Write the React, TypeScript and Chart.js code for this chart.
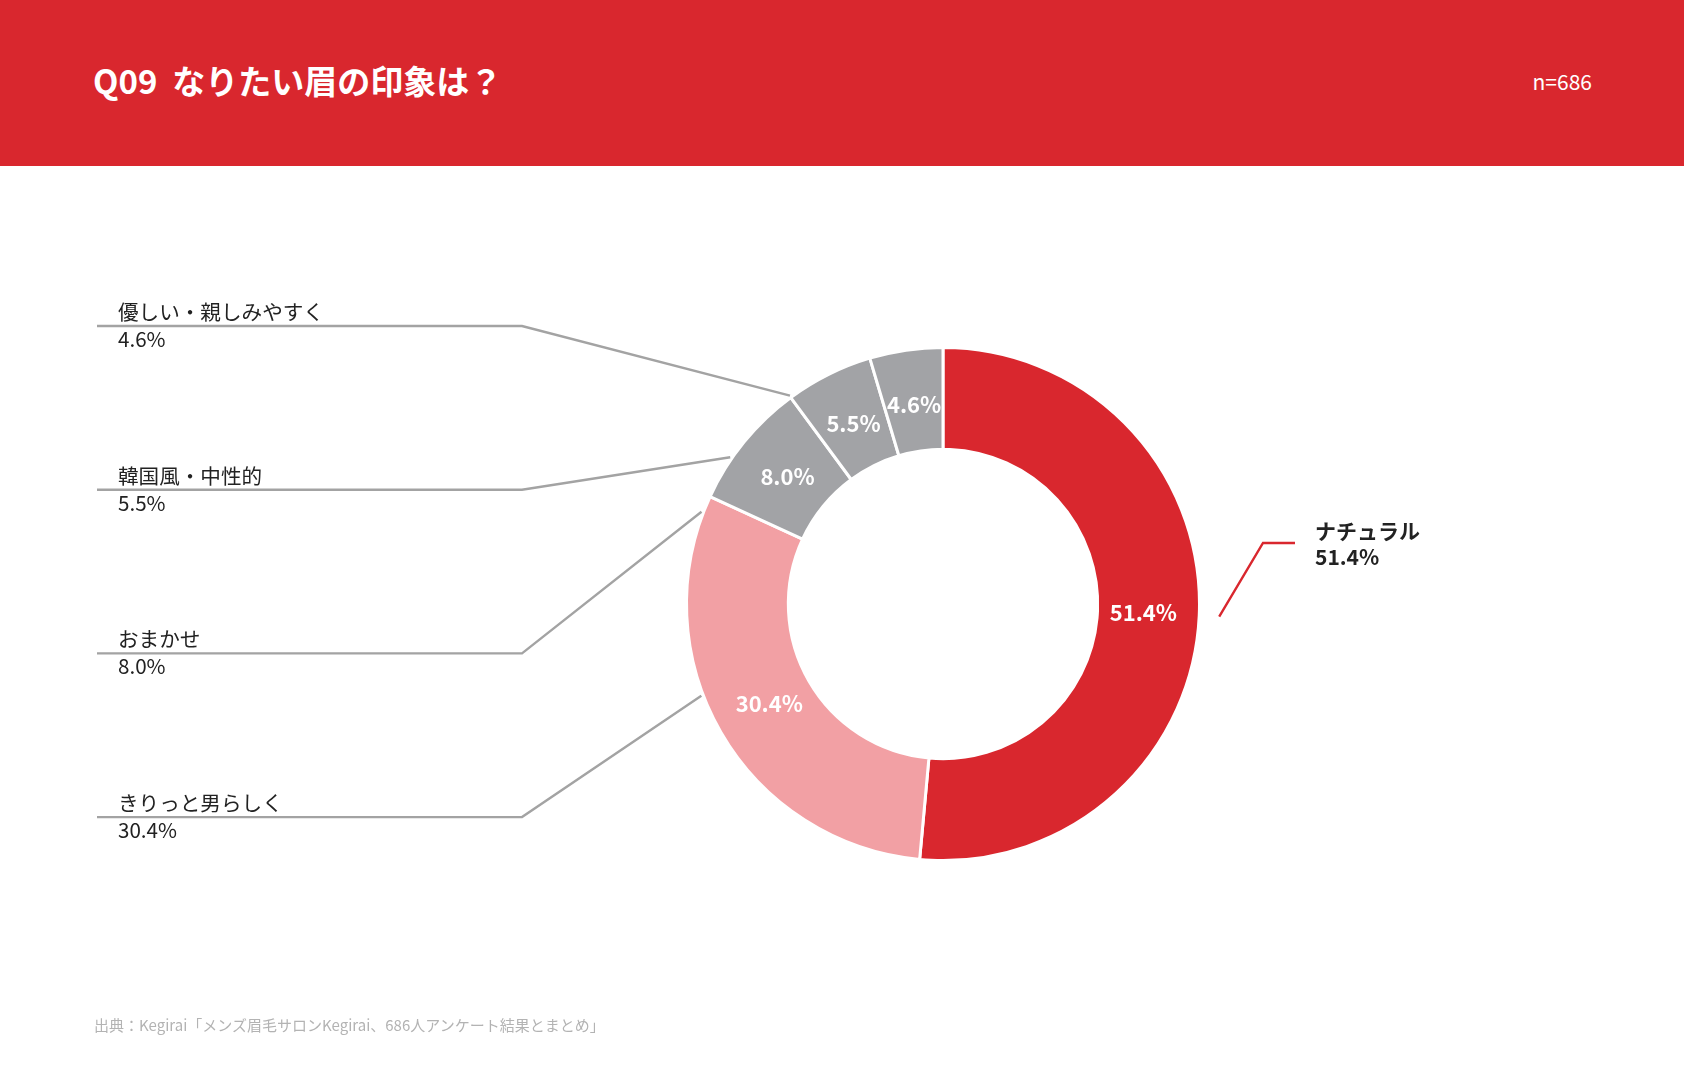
import React, { useEffect, useRef } from "react";
import { Chart, registerables } from "chart.js";

Chart.register(...registerables);

const labels = ["ナチュラル", "きりっと男らしく", "おまかせ", "韓国風・中性的", "優しい・親しみやすく"];
const values = [51.4, 30.4, 8.0, 5.5, 4.6];
const colors = ["#D9272E", "#F2A0A4", "#A2A3A6", "#A2A3A6", "#A2A3A6"];
// callouts on the left, top to bottom (index into labels)
const leftOrder = [4, 3, 2, 1];
const title = "Q09  なりたい眉の印象は？";
const sampleSize = "n=686";
const source = "出典：Kegirai「メンズ眉毛サロンKegirai、686人アンケート結果とまとめ」";

const FONT = '"Noto Sans CJK JP", "Noto Sans", sans-serif';
const HEADER_H = 166;
const W = 1684;
const H = 1089;

// leader line layout (page coords, angles ccw from 12 o'clock)
const ROW_Y0 = 326 - HEADER_H;
const ROW_GAP = 163.7;
const LINE_X0 = 97;
const LINE_X1 = 522;
const LEADER_ANGLES = [36.3, 55.4, 69.1, 110.8];

const calloutPlugin = {
  id: "callouts",
  afterDatasetsDraw(chart: any) {
    const ctx = chart.ctx as CanvasRenderingContext2D;
    const meta = chart.getDatasetMeta(0);
    const first = meta.data[0] as any;
    const cx = first.x;
    const cy = first.y;
    const outer = first.outerRadius;
    const inner = first.innerRadius;
    ctx.save();

    // values inside the ring
    ctx.fillStyle = "#ffffff";
    ctx.font = `bold 22px ${FONT}`;
    ctx.textAlign = "center";
    ctx.textBaseline = "middle";
    meta.data.forEach((el: any, i: number) => {
      const mid = (el.startAngle + el.endAngle) / 2;
      const r = (inner + outer) / 2 - 5;
      ctx.fillText(values[i].toFixed(1) + "%", cx + Math.cos(mid) * r, cy + Math.sin(mid) * r - 1);
    });

    // left callouts
    ctx.textAlign = "left";
    leftOrder.forEach((idx, row) => {
      const y = ROW_Y0 + row * ROW_GAP;
      const a = (LEADER_ANGLES[row] * Math.PI) / 180;
      const ex = cx - Math.sin(a) * (outer + 2);
      const ey = cy - Math.cos(a) * (outer + 2);
      ctx.strokeStyle = "#A3A3A3";
      ctx.lineWidth = 2.4;
      ctx.beginPath();
      ctx.moveTo(LINE_X0, y);
      ctx.lineTo(LINE_X1, y);
      ctx.lineTo(ex, ey);
      ctx.stroke();
      ctx.fillStyle = "#222222";
      ctx.font = `20.6px ${FONT}`;
      ctx.fillText(labels[idx], 118, y - 14);
      ctx.fillText(values[idx].toFixed(1) + "%", 118, y + 13);
    });

    // right callout for the main slice
    const main = meta.data[0] as any;
    const mid = (main.startAngle + main.endAngle) / 2;
    const sx = cx + Math.cos(mid) * (outer + 20);
    const sy = cy + Math.sin(mid) * (outer + 20);
    ctx.strokeStyle = colors[0];
    ctx.lineWidth = 2.4;
    ctx.beginPath();
    ctx.moveTo(sx, sy);
    ctx.lineTo(1263, 543 - HEADER_H);
    ctx.lineTo(1295, 543 - HEADER_H);
    ctx.stroke();
    ctx.fillStyle = "#222222";
    ctx.font = `bold 21px ${FONT}`;
    ctx.fillText(labels[0], 1315, 531 - HEADER_H);
    ctx.fillText(values[0].toFixed(1) + "%", 1315, 557 - HEADER_H);

    ctx.restore();
  },
};

const App = () => {
  const canvasRef = useRef<HTMLCanvasElement>(null);

  useEffect(() => {
    const ctx = canvasRef.current?.getContext("2d");
    if (!ctx) return;
    const chart = new Chart(ctx, {
      type: "doughnut",
      data: {
        labels: labels,
        datasets: [
          {
            data: values,
            backgroundColor: colors,
            borderColor: "#ffffff",
            borderWidth: 3,
          },
        ],
      },
      options: {
        animation: false,
        responsive: false,
        cutout: "60.3%",
        layout: {
          padding: { left: 685, right: 483, top: 180, bottom: 227 },
        },
        plugins: {
          legend: { display: false },
          tooltip: { enabled: false },
        },
      },
      plugins: [calloutPlugin],
    });
    return () => {
      chart.destroy();
    };
  }, []);

  return (
    <div style={{ position: "absolute", left: 0, top: 0, width: W, height: H, background: "#fff", fontFamily: FONT }}>
      <div style={{ position: "absolute", left: 0, top: 0, width: W, height: HEADER_H, background: "#D9272E" }}>
        <div style={{ position: "absolute", left: 93, top: 64, fontSize: 33, fontWeight: 700, lineHeight: 1, color: "#fff", whiteSpace: "pre" }}>
          {title}
        </div>
        <div style={{ position: "absolute", right: 92, top: 71, fontSize: 21, lineHeight: 1, color: "#fff" }}>
          {sampleSize}
        </div>
      </div>
      <canvas ref={canvasRef} width={W} height={H - HEADER_H} style={{ position: "absolute", left: 0, top: HEADER_H }} />
      <div style={{ position: "absolute", left: 94, top: 1017, fontSize: 15, lineHeight: 1, color: "#B3B3B3" }}>
        {source}
      </div>
    </div>
  );
};

export default App;
